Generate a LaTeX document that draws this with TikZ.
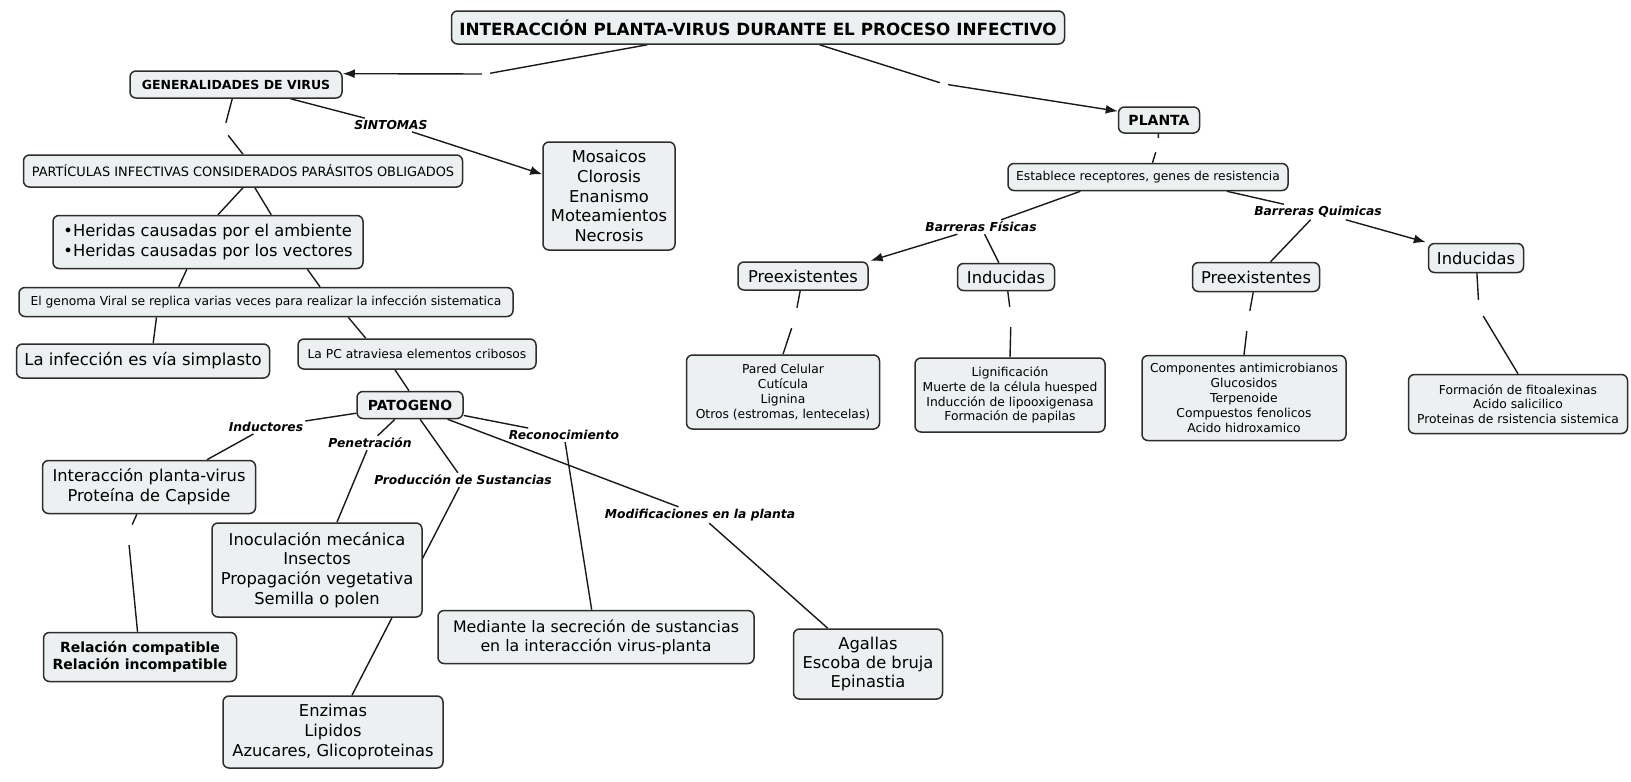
\documentclass[tikz,border=0pt]{standalone}
\usepackage{fontspec}
\setmainfont{DejaVu Sans}[ItalicFont={DejaVu Sans Oblique},BoldFont={DejaVu Sans Bold},BoldItalicFont={DejaVu Sans Bold Oblique}]
\usetikzlibrary{arrows.meta,calc}
\pgfdeclarelayer{bg}
\pgfsetlayers{bg,main}
\definecolor{boxfill}{RGB}{236,240,241}
\definecolor{boxline}{RGB}{45,45,45}
\definecolor{linecol}{RGB}{25,25,25}
\newcommand\fsml{\fontsize{12.3}{14.8}\selectfont}
\newcommand\flrg{\fontsize{16.3}{19.8}\selectfont}
\tikzset{
  cbox/.style={draw=boxline, line width=1.5pt, rounded corners=6pt, fill=boxfill, align=center, inner sep=0pt, text=black},
  lbl/.style={font=\fontsize{12.3}{14}\selectfont\bfseries\itshape, inner sep=2pt},
  elink/.style={inner sep=0pt, rectangle},
  conn/.style={draw=linecol, line width=1.4pt},
  arr/.style={conn, -{Latex[length=12pt,width=9pt]}}
}
\begin{document}
\begin{tikzpicture}[x=1pt,y=-1pt]
\useasboundingbox (0,0) rectangle (1631,782);
% concepts
\node[cbox, minimum width=613, minimum height=33, font=\fontsize{16.8}{20}\selectfont\bfseries] (title) at (758,27.5) {INTERACCIÓN PLANTA-VIRUS DURANTE EL PROCESO INFECTIVO};
\node[cbox, minimum width=212, minimum height=27, font=\fontsize{12.5}{15}\selectfont\bfseries] (gen) at (236,84.5) {GENERALIDADES DE VIRUS};
\node[cbox, minimum width=81, minimum height=26, font=\fontsize{14}{16}\selectfont\bfseries] (planta) at (1159,120) {PLANTA};
\node[cbox, minimum width=132, minimum height=108, font=\flrg] (mosaicos) at (609,196) {Mosaicos\\Clorosis\\Enanismo\\Moteamientos\\Necrosis};
\node[cbox, minimum width=439, minimum height=32, font=\fontsize{12.9}{15}\selectfont] (particulas) at (243,171) {PARTÍCULAS INFECTIVAS CONSIDERADOS PARÁSITOS OBLIGADOS};
\node[cbox, minimum width=310, minimum height=53, font=\flrg, align=left] (heridas) at (208,242) {•Heridas causadas por el ambiente\\•Heridas causadas por los vectores};
\node[cbox, minimum width=494, minimum height=29, font=\fsml] (genoma) at (266,302) {El genoma Viral se replica varias veces para realizar la infección sistematica};
\node[cbox, minimum width=253, minimum height=34, font=\fontsize{16.5}{20}\selectfont] (simplasto) at (143,361) {La infección es vía simplasto};
\node[cbox, minimum width=238, minimum height=30, font=\fsml] (pc) at (417,354) {La PC atraviesa elementos cribosos};
\node[cbox, minimum width=106, minimum height=27, font=\fontsize{13.9}{16}\selectfont\bfseries] (patogeno) at (410,405) {PATOGENO};
\node[cbox, minimum width=213, minimum height=53, font=\flrg] (interaccion) at (149,487) {Interacción planta-virus\\Proteína de Capside};
\node[cbox, minimum width=210, minimum height=94, font=\flrg] (inoculacion) at (317,570) {Inoculación mecánica\\Insectos\\Propagación vegetativa\\Semilla o polen};
\node[cbox, minimum width=220, minimum height=72, font=\flrg] (enzimas) at (333,732) {Enzimas\\Lipidos\\Azucares, Glicoproteinas};
\node[cbox, minimum width=193, minimum height=49, font=\fontsize{14}{17.5}\selectfont\bfseries] (relacion) at (140,657) {Relación compatible\\Relación incompatible};
\node[cbox, minimum width=316, minimum height=53, font=\fontsize{15.8}{19}\selectfont] (mediante) at (596,637) {Mediante la secreción de sustancias\\en la interacción virus-planta};
\node[cbox, minimum width=149, minimum height=70, font=\fontsize{16.3}{19.2}\selectfont] (agallas) at (868,664) {Agallas\\Escoba de bruja\\Epinastia};
\node[cbox, minimum width=280, minimum height=27, font=\fsml] (establece) at (1148,177) {Establece receptores, genes de resistencia};
\node[cbox, minimum width=130, minimum height=28, font=\flrg] (pre1) at (803,276) {Preexistentes};
\node[cbox, minimum width=97, minimum height=27, font=\flrg] (ind1) at (1006,277) {Inducidas};
\node[cbox, minimum width=127, minimum height=29, font=\flrg] (pre2) at (1256,277) {Preexistentes};
\node[cbox, minimum width=95, minimum height=29, font=\flrg] (ind2) at (1476,258) {Inducidas};
\node[cbox, minimum width=193, minimum height=74, font=\fsml] (pared) at (783,392) {Pared Celular\\Cutícula\\Lignina\\Otros (estromas, lentecelas)};
\node[cbox, minimum width=190, minimum height=74, font=\fsml] (lignif) at (1010,395) {Lignificación\\Muerte de la célula huesped\\Inducción de lipooxigenasa\\Formación de papilas};
\node[cbox, minimum width=204, minimum height=85, font=\fsml] (compon) at (1244,398) {Componentes antimicrobianos\\Glucosidos\\Terpenoide\\Compuestos fenolicos\\Acido hidroxamico};
\node[cbox, minimum width=219, minimum height=59, font=\fsml] (fito) at (1518,404) {Formación de fitoalexinas\\Acido salicilico\\Proteinas de rsistencia sistemica};
% linking phrases
\node[lbl] (sint) at (391,125) {SINTOMAS};
\node[lbl] (induct) at (266,427) {Inductores};
\node[lbl] (penet) at (370,443) {Penetración};
\node[lbl] (produc) at (463,480) {Producción de Sustancias};
\node[lbl] (recon) at (564,435) {Reconocimiento};
\node[lbl] (modif) at (700,515) {Modificaciones en la planta};
\node[lbl] (fisicas) at (981,227) {Barreras Físicas};
\node[lbl] (quimicas) at (1318,212) {Barreras Quimicas};
% empty linking phrases (gaps)
\node[elink, minimum width=8, minimum height=8] (e1) at (486,74) {};
\node[elink, minimum width=8, minimum height=8] (e2) at (944,84) {};
\node[elink, minimum width=8, minimum height=14] (e3) at (224,130) {};
\node[elink, minimum width=8, minimum height=14] (e4) at (1158,145) {};
\node[elink, minimum width=8, minimum height=20] (e5) at (795,318) {};
\node[elink, minimum width=8, minimum height=20] (e6) at (1011,317) {};
\node[elink, minimum width=8, minimum height=20] (e7) at (1248,321) {};
\node[elink, minimum width=8, minimum height=18] (e8) at (1479,309) {};
\node[elink, minimum width=8, minimum height=22] (e9) at (128,534) {};
\begin{pgfonlayer}{bg}
\fill[white] (0,0) rectangle (1631,782);
% top
\draw[conn] ($(title.south west)!0.32!(title.south east)$) -- (e1);
\draw[arr] (e1) -- ($(gen.north east)!0.12!(gen.south east)$);
\draw[conn] ($(title.south west)!0.60!(title.south east)$) -- (e2);
\draw[arr] (e2) -- ($(planta.north west)!0.18!(planta.south west)$);
% left
\draw[conn] (gen) -- (sint);
\draw[arr] (sint) -- (mosaicos);
\draw[conn] (gen) -- (e3);
\draw[conn] (e3) -- (particulas.north);
\draw[conn] ($(particulas.south west)!0.5!(particulas.south east)$) -- ($(heridas.north west)!0.532!(heridas.north east)$);
\draw[conn] ($(particulas.south west)!0.527!(particulas.south east)$) -- ($(heridas.north west)!0.703!(heridas.north east)$);
\draw[conn] ($(heridas.south west)!0.432!(heridas.south east)$) -- ($(genoma.north west)!0.324!(genoma.north east)$);
\draw[conn] ($(heridas.south west)!0.819!(heridas.south east)$) -- ($(genoma.north west)!0.609!(genoma.north east)$);
\draw[conn] ($(genoma.south west)!0.279!(genoma.south east)$) -- ($(simplasto.north west)!0.54!(simplasto.north east)$);
\draw[conn] ($(genoma.south west)!0.666!(genoma.south east)$) -- ($(pc.north west)!0.286!(pc.north east)$);
\draw[conn] ($(pc.south west)!0.408!(pc.south east)$) -- ($(patogeno.north west)!0.49!(patogeno.north east)$);
\draw[conn] (patogeno) -- (induct);
\draw[conn] (induct) -- ($(interaccion.north west)!0.77!(interaccion.north east)$);
\draw[conn] (patogeno) -- (penet);
\draw[conn] (penet) -- (inoculacion);
\draw[conn] (patogeno) -- (produc);
\draw[conn] (produc) -- (enzimas);
\draw[conn] (patogeno) -- (recon);
\draw[conn] (recon) -- (mediante);
\draw[conn] (patogeno) -- (modif);
\draw[conn] (modif) -- (agallas);
\draw[conn] (interaccion) -- (e9);
\draw[conn] (e9) -- (relacion);
% right
\draw[conn] (planta) -- (e4);
\draw[conn] (e4) -- (establece);
\draw[conn] ($(establece.south west)!0.26!(establece.south east)$) -- (fisicas);
\draw[arr, shorten >=2pt] (fisicas) -- (pre1.north east);
\draw[conn] (fisicas) -- (ind1);
\draw[conn] ($(establece.south west)!0.78!(establece.south east)$) -- (quimicas);
\draw[conn] (quimicas) -- (pre2);
\draw[arr, shorten >=2pt] (quimicas) -- (ind2.north west);
\draw[conn] (pre1) -- (e5);
\draw[conn] (e5) -- (pared.north);
\draw[conn] (ind1) -- (e6);
\draw[conn] (e6) -- (lignif.north);
\draw[conn] (pre2) -- (e7);
\draw[conn] (e7) -- (compon.north);
\draw[conn] (ind2) -- (e8);
\draw[conn] (e8) -- (fito.north);
\end{pgfonlayer}
\end{tikzpicture}
\end{document}
